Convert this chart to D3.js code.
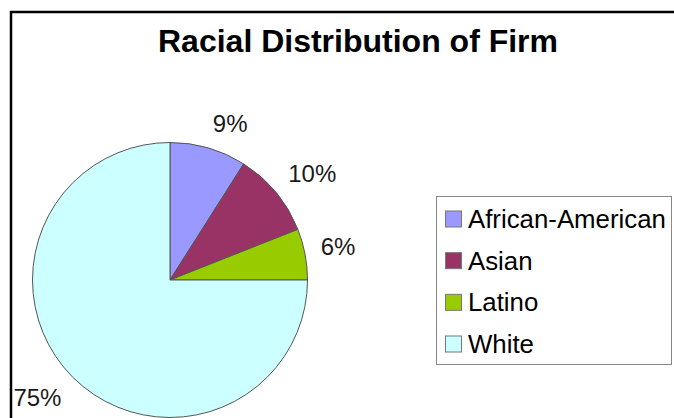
<html>
<head>
<script src="https://d3js.org/d3.v7.min.js"></script>
<style>
  body { margin: 0; background: #fff; }
  text { font-family: "Liberation Sans", Arial, sans-serif; }
</style>
</head>
<body>
<svg width="674" height="418"></svg>
<script>
// chart data
var categories = ["African-American", "Asian", "Latino", "White"];
var shares = [9, 10, 6, 75];
var colors = ["#9999FF", "#993366", "#99CC00", "#CCFFFF"];
var title = "Racial Distribution of Firm";

var data = categories.map(function(c, i) { return { name: c, value: shares[i], color: colors[i] }; });

var svg = d3.select("svg");

// outer frame (runs off the right and bottom edge)
svg.append("rect")
    .attr("x", 11).attr("y", 12)
    .attr("width", 720).attr("height", 500)
    .attr("fill", "#fff")
    .attr("stroke", "#000")
    .attr("stroke-width", 2.5);

svg.append("text")
    .attr("x", 358).attr("y", 52)
    .attr("text-anchor", "middle")
    .style("font-size", "32px")
    .style("font-weight", "bold")
    .attr("fill", "#000")
    .text(title);

// pie
var cx = 170, cy = 280, R = 137.5;
var pie = d3.pie().sort(null).value(function(d) { return d.value; });
var arc = d3.arc().innerRadius(0).outerRadius(R);
var arcs = pie(data);

var g = svg.append("g").attr("transform", "translate(" + cx + "," + cy + ")");
g.selectAll("path")
    .data(arcs)
    .enter()
    .append("path")
    .attr("d", arc)
    .attr("fill", function(d) { return d.data.color; })
    .attr("stroke", "#555")
    .attr("stroke-width", 1);

// percent labels, placed just outside the rim like excel does
var fs = 24;
function clamp(v) { return Math.max(-1, Math.min(1, v)); }
g.selectAll(".lbl")
    .data(arcs)
    .enter()
    .append("text")
    .attr("class", "lbl")
    .attr("text-anchor", "middle")
    .attr("dy", "0.35em")
    .style("font-size", fs + "px")
    .attr("fill", "#1a1a1a")
    .text(function(d) { return d.data.value + "%"; })
    .each(function(d) {
        var a = (d.startAngle + d.endAngle) / 2;
        var s = Math.sin(a), c = -Math.cos(a);
        var w = this.getComputedTextLength(), h = fs * 0.716;
        var x = s * (R + 16) + clamp(4 * s) * w / 2;
        var y = c * (R + 16) + clamp(3 * c) * h / 2;
        d3.select(this).attr("x", x).attr("y", y);
    });

// legend
var lg = svg.append("g");
lg.append("rect")
    .attr("x", 436.5).attr("y", 196.5)
    .attr("width", 235).attr("height", 168)
    .attr("fill", "#fff")
    .attr("stroke", "#888")
    .attr("stroke-width", 1);

var ly = d3.scalePoint().domain(categories).range([219, 344]);

var rows = lg.selectAll(".row")
    .data(data)
    .enter()
    .append("g")
    .attr("class", "row")
    .attr("transform", function(d) { return "translate(0," + ly(d.name) + ")"; });

rows.append("rect")
    .attr("x", 445.5).attr("y", -8)
    .attr("width", 16).attr("height", 16)
    .attr("fill", function(d) { return d.color; })
    .attr("stroke", "#777")
    .attr("stroke-width", 1);

rows.append("text")
    .attr("x", 468).attr("y", 0)
    .attr("dy", "0.35em")
    .style("font-size", "25.8px")
    .attr("fill", "#000")
    .text(function(d) { return d.name; });
</script>
</body>
</html>
